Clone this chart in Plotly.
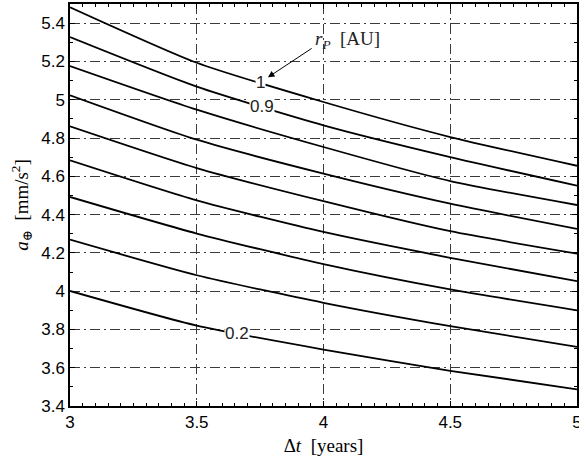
import numpy as np
import plotly.graph_objects as go

# Data
dt_years = [3.0, 3.5, 4.0, 4.5, 5.0]
r_p_values = [1.0, 0.9, 0.8, 0.7, 0.6, 0.5, 0.4, 0.3, 0.2]
a_earth = {
    1.0: [5.483, 5.193, 4.988, 4.805, 4.655],
    0.9: [5.327, 5.068, 4.866, 4.700, 4.551],
    0.8: [5.176, 4.948, 4.753, 4.575, 4.450],
    0.7: [5.023, 4.791, 4.614, 4.457, 4.325],
    0.6: [4.861, 4.643, 4.470, 4.313, 4.196],
    0.5: [4.683, 4.474, 4.309, 4.174, 4.052],
    0.4: [4.492, 4.301, 4.141, 4.009, 3.900],
    0.3: [4.269, 4.083, 3.939, 3.817, 3.709],
    0.2: [4.001, 3.820, 3.695, 3.584, 3.487],
}
x_ticks = [3, 3.5, 4, 4.5, 5]
y_ticks = [3.4, 3.6, 3.8, 4, 4.2, 4.4, 4.6, 4.8, 5, 5.2, 5.4]
labelled = {1.0: ("1", 3.75), 0.9: ("0.9", 3.757), 0.2: ("0.2", 3.66)}

fig = go.Figure()
for r in r_p_values:
    fig.add_trace(go.Scatter(
        x=dt_years, y=a_earth[r], mode="lines",
        line=dict(color="black", width=1.8, shape="spline", smoothing=0.6),
        showlegend=False, hoverinfo="skip"))

sans = "Liberation Sans, Arial, sans-serif"
serif = "Liberation Serif, DejaVu Serif, serif"

for r, (txt, lx) in labelled.items():
    ly = float(np.interp(lx, dt_years, a_earth[r]))
    fig.add_annotation(x=lx, y=ly, text=txt, showarrow=False,
                       font=dict(family=sans, size=17, color="#222"),
                       bgcolor="white", borderpad=0)

# r_P [AU] label with arrow pointing at the r_P = 1 curve
fig.add_annotation(x=4.093, y=5.31, text="<i>r</i><sub><i>P</i></sub>  [AU]",
                   showarrow=False, font=dict(family=serif, size=19, color="#222"))
fig.add_annotation(x=3.781, y=5.117, ax=3.959, ay=5.273, axref="x", ayref="y",
                   text="", showarrow=True, arrowhead=2, arrowsize=1.3,
                   arrowwidth=1, arrowcolor="black")

grid_dash = "10px,4px,2px,4px"
axis_common = dict(
    showline=True, linecolor="black", linewidth=1.5, mirror="allticks",
    ticks="inside", ticklen=5, tickcolor="black", tickwidth=1,
    showgrid=True, gridcolor="#3a3a3a", gridwidth=1, griddash=grid_dash,
    zeroline=False, automargin=False, ticklabeloverflow="allow",
    tickfont=dict(family=sans, size=17, color="black"),
)

fig.update_xaxes(range=[3, 5], tickvals=x_ticks,
                 ticktext=[f"{v:g}" for v in x_ticks],
                 minor=dict(dtick=0.05, ticks="inside", ticklen=3, tickcolor="black", showgrid=False),
                 title=dict(text="Δ<i>t</i>  [years]", font=dict(family=serif, size=19, color="black"),
                            standoff=8),
                 **axis_common)
fig.update_yaxes(range=[3.4, 5.5], tickvals=y_ticks,
                 ticktext=[f"{v:g}" for v in y_ticks],
                 minor=dict(dtick=0.1, ticks="inside", ticklen=3, tickcolor="black", showgrid=False),
                 title=dict(text="<i>a</i><sub>⊕</sub>  [mm/s<sup>2</sup>]",
                            font=dict(family=serif, size=19, color="black"), standoff=8),
                 **axis_common)

fig.update_layout(
    width=579, height=461,
    margin=dict(l=70, r=2, t=4, b=55),
    paper_bgcolor="white", plot_bgcolor="white",
)

fig.write_html("out.html")
